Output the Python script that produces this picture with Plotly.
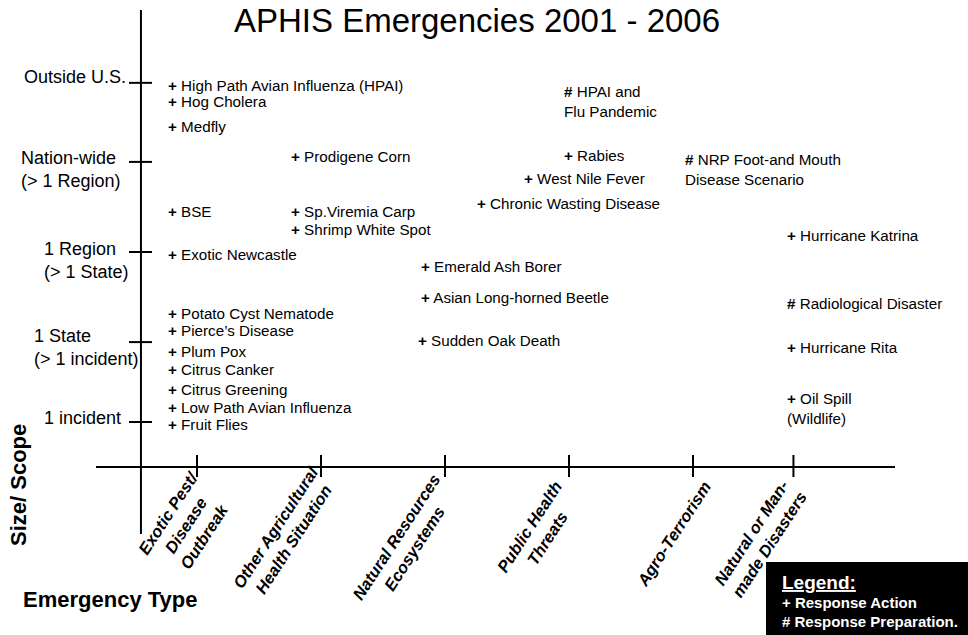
import plotly.graph_objects as go

# ---------------- data ----------------
categories = [
    "Exotic Pest/<br>Disease<br>Outbreak",
    "Other Agricultural<br>Health Situation",
    "Natural Resources<br>Ecosystems",
    "Public Health<br>Threats",
    "Agro-Terrorism",
    "Natural or Man-<br>made Disasters",
]
category_x = [1, 2, 3, 4, 5, 5.81]

scope_levels = [
    "1 incident",
    "1 State<br>(> 1 incident)",
    "1 Region<br>(> 1 State)",
    "Nation-wide<br>(> 1 Region)",
    "Outside U.S.",
]
scope_y = [1.0, 1.94, 3.0, 4.06, 4.99]

event_names = [
    "High Path Avian Influenza (HPAI)", "Hog Cholera", "Medfly", "BSE",
    "Exotic Newcastle", "Potato Cyst Nematode", "Pierce’s Disease", "Plum Pox",
    "Citrus Canker", "Citrus Greening", "Low Path Avian Influenza", "Fruit Flies",
    "Prodigene Corn", "Sp.Viremia Carp", "Shrimp White Spot",
    "Emerald Ash Borer", "Asian Long-horned Beetle", "Sudden Oak Death",
    "HPAI and<br>Flu Pandemic", "Rabies", "West Nile Fever", "Chronic Wasting Disease",
    "NRP Foot-and Mouth<br>Disease Scenario",
    "Hurricane Katrina", "Radiological Disaster", "Hurricane Rita", "Oil Spill<br>(Wildlife)",
]
event_marks = [
    "+", "+", "+", "+", "+", "+", "+", "+", "+", "+", "+", "+",
    "+", "+", "+",
    "+", "+", "+",
    "#", "+", "+", "+",
    "#",
    "+", "#", "+", "+",
]
event_x = [
    0.758, 0.758, 0.758, 0.758, 0.758, 0.758, 0.758, 0.758, 0.758, 0.758, 0.758, 0.758,
    1.75, 1.75, 1.75,
    2.798, 2.798, 2.774,
    3.952, 3.952, 3.629, 3.25,
    4.927,
    5.75, 5.75, 5.75, 5.75,
]
event_y = [
    4.953, 4.765, 4.482, 3.482, 2.976, 2.282, 2.082, 1.824, 1.612, 1.388, 1.176, 0.965,
    4.129, 3.471, 3.259,
    2.835, 2.459, 1.953,
    4.765, 4.141, 3.859, 3.565,
    3.976,
    3.2, 2.4, 1.871, 1.159,
]

# ---------------- layout helpers ----------------
W, H = 968, 635
X_RANGE = [-0.5887, 7.2177]
Y_RANGE = [-1.5059, 5.9647]
V_AXIS_X = 0.548
V_AXIS_Y = [-0.318, 5.847]
H_AXIS_Y = 0.4706
H_AXIS_X = [0.1855, 6.629]
Y_TICK_X = [0.4516, 0.6371]
X_TICK_Y = [0.3529, 0.6118]


def px(xp):
    return xp / W


def py(yp):
    return 1 - yp / H


FONT = "Liberation Sans, Arial, sans-serif"

fig = go.Figure()

# axis lines
fig.add_trace(go.Scatter(x=[V_AXIS_X, V_AXIS_X], y=V_AXIS_Y, mode="lines",
                         line=dict(color="black", width=2), hoverinfo="skip"))
fig.add_trace(go.Scatter(x=H_AXIS_X, y=[H_AXIS_Y, H_AXIS_Y], mode="lines",
                         line=dict(color="black", width=2), hoverinfo="skip"))

# y ticks
tx, ty = [], []
for yv in scope_y:
    tx += [Y_TICK_X[0], Y_TICK_X[1], None]
    ty += [yv, yv, None]
fig.add_trace(go.Scatter(x=tx, y=ty, mode="lines",
                         line=dict(color="black", width=2), hoverinfo="skip"))

# x ticks
tx, ty = [], []
for xv in category_x:
    tx += [xv, xv, None]
    ty += [X_TICK_Y[0], X_TICK_Y[1], None]
fig.add_trace(go.Scatter(x=tx, y=ty, mode="lines",
                         line=dict(color="black", width=2), hoverinfo="skip"))

annotations = []

# y tick labels (left aligned blocks)
scope_label_x = [-0.242, -0.323, -0.242, -0.427, -0.403]
scope_label_y = [1.047, 1.882, 2.9, 3.971, 5.059]
for lab, lx, ly in zip(scope_levels, scope_label_x, scope_label_y):
    annotations.append(dict(x=lx, y=ly, xref="x", yref="y", text=lab, showarrow=False,
                            xanchor="left", yanchor="middle", align="left", borderpad=0,
                            font=dict(family=FONT, size=18, color="black")))

# x category labels (rotated)
cat_dx = [-11, -37, -40, -31, -19.5, -33.5]
cat_dy = [-57, -66.5, -75.5, -65.5, -67, -71.5]
for lab, xv, dx, dy in zip(categories, category_x, cat_dx, cat_dy):
    annotations.append(dict(x=xv, y=H_AXIS_Y, xref="x", yref="y", text=lab, showarrow=False,
                            xanchor="center", yanchor="middle", align="center",
                            xshift=dx, yshift=dy, textangle=-57, borderpad=0,
                            font=dict(family=FONT, size=16.5, color="black",
                                      weight="bold", style="italic")))

# events
for name, mk, ex, ey in zip(event_names, event_marks, event_x, event_y):
    annotations.append(dict(x=ex, y=ey, xref="x", yref="y",
                            text="<b>" + mk + "</b> " + name, showarrow=False,
                            xanchor="left", yanchor="middle", align="left", borderpad=0,
                            font=dict(family=FONT, size=15.2, color="black")))

# axis titles
annotations.append(dict(x=-0.4355, y=0.259, xref="x", yref="y", text="Size/ Scope",
                        showarrow=False, textangle=-90, xanchor="center", yanchor="middle",
                        font=dict(family=FONT, size=22, color="black", weight="bold")))
annotations.append(dict(x=0.2984, y=-1.094, xref="x", yref="y", text="Emergency Type",
                        showarrow=False, xanchor="center", yanchor="middle",
                        font=dict(family=FONT, size=22, color="black", weight="bold")))

# legend box text
annotations.append(dict(x=px(781), y=py(582), xref="paper", yref="paper",
                        text="<u>Legend:</u>", showarrow=False, xanchor="left", yanchor="middle",
                        borderpad=0,
                        font=dict(family=FONT, size=19, color="white", weight="bold")))
annotations.append(dict(x=px(781), y=py(602), xref="paper", yref="paper",
                        text="+ Response Action", showarrow=False, xanchor="left",
                        yanchor="middle", borderpad=0,
                        font=dict(family=FONT, size=15, color="white", weight="bold")))
annotations.append(dict(x=px(781), y=py(621), xref="paper", yref="paper",
                        text="# Response Preparation.", showarrow=False, xanchor="left",
                        yanchor="middle", borderpad=0,
                        font=dict(family=FONT, size=15, color="white", weight="bold")))

fig.update_layout(
    width=W, height=H,
    margin=dict(l=0, r=0, t=0, b=0),
    paper_bgcolor="white", plot_bgcolor="white",
    showlegend=False,
    title=dict(text="APHIS Emergencies 2001 - 2006", x=px(477), y=py(20),
               xanchor="center", yanchor="middle",
               font=dict(family=FONT, size=33, color="black")),
    xaxis=dict(range=X_RANGE, visible=False, fixedrange=True),
    yaxis=dict(range=Y_RANGE, visible=False, fixedrange=True),
    annotations=annotations,
    shapes=[dict(type="rect", xref="paper", yref="paper", x0=px(766), x1=1,
                 y0=0, y1=py(562), fillcolor="black", line=dict(width=0),
                 layer="below")],
)

fig.write_html("out.html", config={"displayModeBar": False},
               post_script="document.body.style.margin='0px';")
